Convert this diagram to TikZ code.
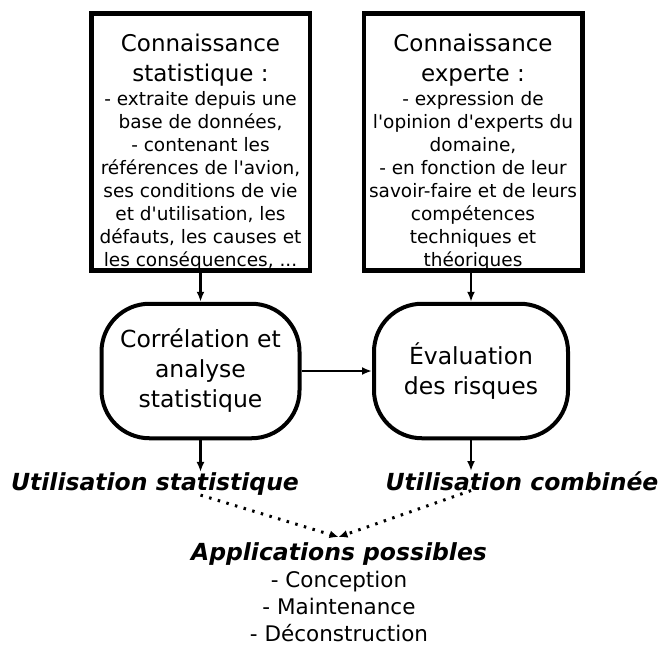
\documentclass[tikz,border=0pt]{standalone}
\usepackage{fontspec}
\newfontfamily\dejavu{DejaVu Sans}
\usetikzlibrary{arrows.meta}

\begin{document}
\begin{tikzpicture}[x=1pt,y=-1pt, every node/.style={inner sep=0pt,font=\dejavu}, knowbox/.style={draw,line width=4.5pt,minimum width=218.5pt,minimum height=257pt}, knowtext/.style={align=center,anchor=north,font=\dejavu\fontsize{18.5}{23}\selectfont}, procbox/.style={draw,line width=4pt,rounded corners=48pt,minimum height=134.5pt,align=center,font=\dejavu\fontsize{23.5}{30}\selectfont}, usage/.style={anchor=base,font=\dejavu\bfseries\itshape\fontsize{23.5}{28}\selectfont}, arr/.style={-{Latex[length=10pt,width=8pt]},line width=2.2pt}, dotarr/.style={-{Latex[length=9pt,width=8pt]},line width=3pt,dash pattern=on 2.5pt off 6.5pt}]
\useasboundingbox (0,0) rectangle (660,646);
% the two sources of knowledge
\node[knowbox] (stat) at (200.5,142) {};
\node[knowbox] (expert) at (473,142) {};
\node[knowtext] (statTxt) at (200.5,34) {{\fontsize{23}{23}\selectfont Connaissance}\\[7pt]{\fontsize{23}{23}\selectfont statistique :}\\[1pt]- extraite depuis une\\base de données,\\- contenant les\\références de l'avion,\\ses conditions de vie\\et d'utilisation, les\\défauts, les causes et\\les conséquences, ...};
\node[knowtext] (expertTxt) at (473,34) {{\fontsize{23}{23}\selectfont Connaissance}\\[7pt]{\fontsize{23}{23}\selectfont experte :}\\[1pt]- expression de\\l'opinion d'experts du\\domaine,\\- en fonction de leur\\savoir-faire et de leurs\\compétences\\techniques et\\théoriques};
% processing
\node[procbox,minimum width=198pt] (corr) at (200.5,371) {Corrélation et\\analyse\\statistique};
\node[procbox,minimum width=194pt] (risk) at (471,371) {Évaluation\\des risques};
% uses
\node[usage] (useStat) at (155,490) {Utilisation statistique};
\node[usage] (useComb) at (522,490) {Utilisation combinée};
\node[align=center,anchor=north,font=\dejavu\fontsize{21.5}{27}\selectfont] (apps) at (339,542) {{\bfseries\itshape\fontsize{23.5}{27}\selectfont Applications possibles}\\- Conception\\- Maintenance\\- Déconstruction};
\coordinate (meet) at (338.5,537);
\draw[arr] (stat) -- (corr); \draw[arr] (expert.south -| risk) -- (risk); \draw[arr] (corr) -- (risk);
\draw[arr] (corr.south) -- (corr.south |- useStat.north); \draw[arr] (risk.south) -- (risk.south |- useComb.north);
\draw[dotarr] (corr.south |- useStat.south) -- (meet); \draw[dotarr] (risk.south |- useComb.south) -- (meet);
\end{tikzpicture}
\end{document}
